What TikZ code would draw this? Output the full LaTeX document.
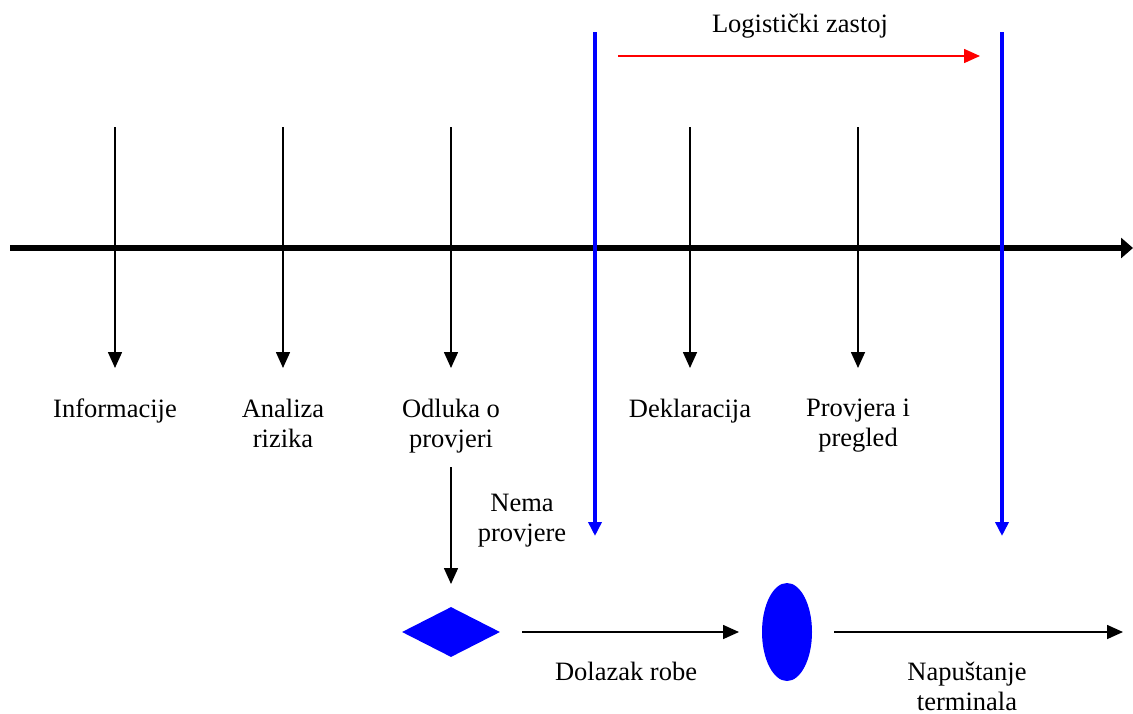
\documentclass[tikz,border=0pt]{standalone}
\usepackage{fontspec}
\setmainfont{Liberation Serif}
\usetikzlibrary{arrows.meta,shapes.geometric}
\begin{document}
\begin{tikzpicture}[x=1pt,y=-1pt,
  lbl/.style={font=\fontsize{26.5}{30}\selectfont,align=center,inner sep=0pt,anchor=north},
  thinarr/.style={line width=1.6pt,-{Triangle[length=16pt,width=14pt]}},
  bluearr/.style={blue,line width=4.5pt,-{Triangle[length=14pt,width=13pt]}},
  axis/.style={line width=5.5pt,-{Triangle[length=12pt,width=20pt]}}]
\useasboundingbox (0,0) rectangle (1133,713);
% main axis
\coordinate (axL) at (10,248);
\coordinate (axR) at (1133,248);
\draw[axis] (axL) -- (axR);
% black event arrows
\foreach \n/\x in {a/115,b/283,c/451,d/690,e/858}{
  \coordinate (\n top) at (\x,127);
  \coordinate (\n bot) at (\x,368);
  \draw[thinarr] (\n top) -- (\n bot);
}
% labels (first-line baseline about 18 below the node top)
\node[lbl] (t1) at (115,399) {Informacije};
\node[lbl] (t2) at (283,399) {Analiza\\rizika};
\node[lbl] (t3) at (451,399) {Odluka o\\provjeri};
\node[lbl] (t4) at (690,399) {Deklaracija};
\node[lbl] (t5) at (858,399) {Provjera i\\pregled};
% blue arrows
\coordinate (b1t) at (595,32);
\coordinate (b1b) at (595,536);
\coordinate (b2t) at (1002,32);
\coordinate (b2b) at (1002,536);
\draw[bluearr] (b1t) -- (b1b);
\draw[bluearr] (b2t) -- (b2b);
% red arrow
\coordinate (r1) at (618,56);
\coordinate (r2) at (980,56);
\draw[red,line width=1.6pt,-{Triangle[length=16pt,width=14pt]}] (r1) -- (r2);
\node[lbl] (lz) at (800,14) {Logistički zastoj};
% decision branch
\coordinate (np1) at (451,467);
\coordinate (np2) at (451,584);
\draw[thinarr] (np1) -- (np2);
\node[lbl] (nema) at (522,494) {Nema\\provjere};
% diamond & ellipse
\node[diamond,fill=blue,draw=none,minimum width=98pt,minimum height=50pt,inner sep=0pt,aspect=2] (dia) at (451,632) {};
\node[ellipse,fill=blue,draw=none,minimum width=50pt,minimum height=98pt,inner sep=0pt] (ell) at (787,632) {};
\coordinate (f1) at (522,632);
\coordinate (f2) at (739,632);
\draw[thinarr] (f1) -- (f2);
\node[lbl] (dr) at (626,662) {Dolazak robe};
\coordinate (g1) at (834,632);
\coordinate (g2) at (1123,632);
\draw[thinarr] (g1) -- (g2);
\node[lbl] (nt) at (967,662) {Napuštanje\\terminala};
\end{tikzpicture}
\end{document}
